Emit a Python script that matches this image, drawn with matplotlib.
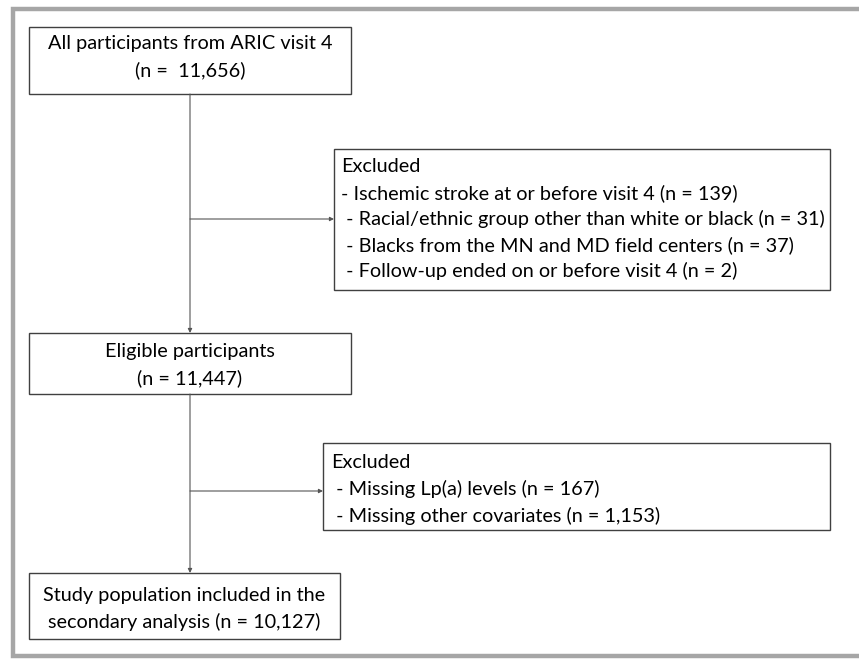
import matplotlib
matplotlib.use("Agg")
from matplotlib import pyplot as plt
from matplotlib.patches import Rectangle

plt.rcParams["font.family"] = ["Lato", "DejaVu Sans"]

# box texts
top_lines = ["All participants from ARIC visit 4", "(n =  11,656)"]
excl1_lines = [
    "Excluded",
    "- Ischemic stroke at or before visit 4 (n = 139)",
    " - Racial/ethnic group other than white or black (n = 31)",
    " - Blacks from the MN and MD field centers (n = 37)",
    " - Follow-up ended on or before visit 4 (n = 2)",
]
elig_lines = ["Eligible participants", "(n = 11,447)"]
excl2_lines = [
    "Excluded",
    " - Missing Lp(a) levels (n = 167)",
    " - Missing other covariates (n = 1,153)",
]
final_lines = ["Study population included in the", "secondary analysis (n = 10,127)"]

W, H = 859, 660
fig = plt.figure(figsize=(W / 100, H / 100), dpi=100)
ax = fig.add_axes([0, 0, 1, 1])
ax.set_xlim(0, W)
ax.set_ylim(H, 0)
ax.axis("off")

# outer grey frame (right side runs off the image)
ax.plot([870, 13, 13, 870], [9, 9, 656, 656], color="#a6a6a6", lw=3.2,
        solid_joinstyle="miter")

edge = "#404040"
fs = 14.3


def box(x0, y0, x1, y1):
    ax.add_patch(Rectangle((x0, y0), x1 - x0, y1 - y0, fill=False,
                           ec=edge, lw=1.0))


def centered(lines, xc, ys):
    for t, y in zip(lines, ys):
        ax.text(xc, y, t, ha="center", va="center", fontsize=fs, color="black")


def left(lines, x, ys):
    for t, y in zip(lines, ys):
        ax.text(x, y, t, ha="left", va="center", fontsize=fs, color="black")


def arrow(x0, y0, x1, y1):
    ax.annotate("", xy=(x1, y1), xytext=(x0, y0),
                arrowprops=dict(arrowstyle="-|>", color="#555555", lw=0.8,
                                mutation_scale=6, shrinkA=0, shrinkB=0))


cx = 190

box(29, 27, 351, 94)
centered(top_lines, cx, [44, 70])

box(334, 149, 830, 290)
left(excl1_lines, 341, [166, 193, 219, 245, 271])

box(29, 333, 351, 394)
centered(elig_lines, cx, [352, 378])

box(323, 443, 830, 530)
left(excl2_lines, 331, [462, 489, 516])

box(29, 573, 340, 639)
centered(final_lines, 184.5, [595, 622])

# connectors
arrow(cx, 94, cx, 333)
arrow(cx, 219, 334, 219)
arrow(cx, 394, cx, 573)
arrow(cx, 491, 323, 491)

fig.savefig("out.png", dpi=100)
